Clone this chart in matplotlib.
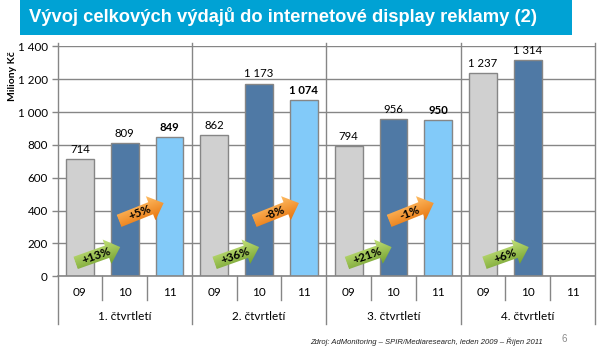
import numpy as np
import matplotlib
matplotlib.use("Agg")
import matplotlib.pyplot as plt
from matplotlib.patches import Polygon, Rectangle
from matplotlib.transforms import Affine2D, blended_transform_factory

title = "Vývoj celkových výdajů do internetové display reklamy (2)"
source = "Zdroj: AdMonitoring – SPIR/Mediaresearch, leden 2009 – Říjen 2011"
years = ["09", "10", "11"]
quarters = ["1. čtvrtletí", "2. čtvrtletí", "3. čtvrtletí", "4. čtvrtletí"]
values = [714, 809, 849, 862, 1173, 1074, 794, 956, 950, 1237, 1314, None]
value_labels = ["714", "809", "849", "862", "1 173", "1 074", "794", "956", "950", "1 237", "1 314", ""]
bold_labels = ["849", "1 074", "950"]
yticks = [0, 200, 400, 600, 800, 1000, 1200, 1400]
ytick_labels = ["0", "200", "400", "600", "800", "1 000", "1 200", "1 400"]

green_labels = ["+13%", "+36%", "+21%", "+6%"]
green_x = [-0.10, 3.0, 5.96, 9.02]
orange_labels = ["+5%", "-8%", "-1%"]
orange_x = [0.87, 3.89, 6.9]

colors = ["#D0D0D0", "#4F79A5", "#82CAF9"]
line_col = "#868686"
plt.rcParams["font.family"] = ["Lato", "DejaVu Sans"]

W, H = 597, 353
fig = plt.figure(figsize=(W / 100, H / 100), dpi=100)
ax = fig.add_axes([57.5 / W, 1 - 276.3 / H, 537.5 / W, 230 / H])
ax.set_xlim(-0.5, 11.5)
ax.set_ylim(0, 1400)
ax.set_axisbelow(True)
ax.grid(axis="y", color=line_col, lw=1)
for s in ax.spines.values():
    s.set_visible(False)

# bars and value labels
for i, v in enumerate(values):
    if v is None:
        continue
    ax.bar(i, v, width=0.62, color=colors[i % 3], edgecolor=line_col, lw=1, zorder=3)
    lab = value_labels[i]
    ax.annotate(lab, (i, v), xytext=(0, 3), textcoords="offset points", ha="center", va="bottom",
                fontsize=8.2, color="black", fontweight="bold" if lab in bold_labels else "normal", zorder=4)

ax.set_yticks(yticks, ytick_labels, fontsize=8.4)
ax.tick_params(axis="y", color=line_col, length=4, width=1, pad=3)
ax.set_xticks([])
ax.set_ylabel("Miliony Kč", fontsize=7.5, fontweight="bold", labelpad=0)
ax.yaxis.set_label_coords(-0.075, 0.87)

# two level category axis below the plot
tr = blended_transform_factory(ax.transData, ax.transAxes)
px = 1 / 230
ax.plot([-0.5, 11.5], [0, 0], color=line_col, lw=1.2, transform=tr, clip_on=False, zorder=5)
for i in range(13):
    major = i % 3 == 0
    top = 3 * px + 1 if major else 0
    bottom = -48 * px if major else -24 * px
    ax.plot([i - 0.5, i - 0.5], [top, bottom], color=line_col, lw=1, transform=tr,
            clip_on=False, zorder=2)
for i in range(12):
    ax.text(i, -16 * px, years[i % 3], transform=tr, ha="center", va="center", fontsize=8.5)
for q, name in enumerate(quarters):
    ax.text(3 * q + 1, -40 * px, name, transform=tr, ha="center", va="center", fontsize=8.5)


def draw_arrow(x0, y0, x1, y1, text, top_col, bottom_col):
    # tail and tip come from data coordinates, the shape is built in pixels
    p0 = ax.transData.transform((x0, y0))
    p1 = ax.transData.transform((x1, y1))
    d = p1 - p0
    L = np.hypot(*d)
    ang = np.degrees(np.arctan2(d[1], d[0]))
    t = Affine2D().rotate_deg(ang).translate(*p0)
    shape = [(0, -6.5), (L - 14, -6.5), (L - 14, -13), (L, 0), (L - 14, 13), (L - 14, 6.5), (0, 6.5)]
    poly = Polygon(shape, closed=True, transform=t, fc="none", ec="none", clip_on=False)
    ax.add_patch(poly)
    cmap = matplotlib.colors.LinearSegmentedColormap.from_list("g", [top_col, bottom_col])
    im = ax.imshow(np.linspace(0, 1, 32).reshape(-1, 1), cmap=cmap, extent=(0, L, -13, 13), origin="upper",
                   transform=t, aspect="auto", zorder=6, clip_on=True)
    im.set_clip_path(poly)
    c = t.transform((L * 0.47, 0))
    cx, cy = fig.transFigure.inverted().transform(c)
    fig.text(cx, cy, text, rotation=ang, rotation_mode="anchor", ha="center", va="center",
             fontsize=8.5, fontweight="bold", color="black", zorder=10)


for x, lab in zip(green_x, green_labels):
    draw_arrow(x, 81, x + 1.0, 178, lab, "#C4E27A", "#76A332")
for x, lab in zip(orange_x, orange_labels):
    draw_arrow(x, 337, x + 1.0, 446, lab, "#FFBE66", "#E8760E")
ax.set_xlim(-0.5, 11.5)
ax.set_ylim(0, 1400)

# title band and footer
fig.add_artist(Rectangle((20 / W, 1 - 35 / H), 552 / W, 35 / H, transform=fig.transFigure, fc="#00A2D4", ec="none"))
fig.text(29 / W, 1 - 16 / H, title, color="white", fontsize=13.2, fontweight="bold",
         family="Liberation Sans", va="center", ha="left")
fig.text(310 / W, 1 - 342 / H, source, fontsize=5.5, style="italic", family="Liberation Sans",
         va="center", ha="left", color="#222222")
fig.text(561 / W, 1 - 339 / H, "6", fontsize=7, family="Liberation Sans", color="#8A8A8A", va="center", ha="left")

fig.savefig("out.png", dpi=100)
